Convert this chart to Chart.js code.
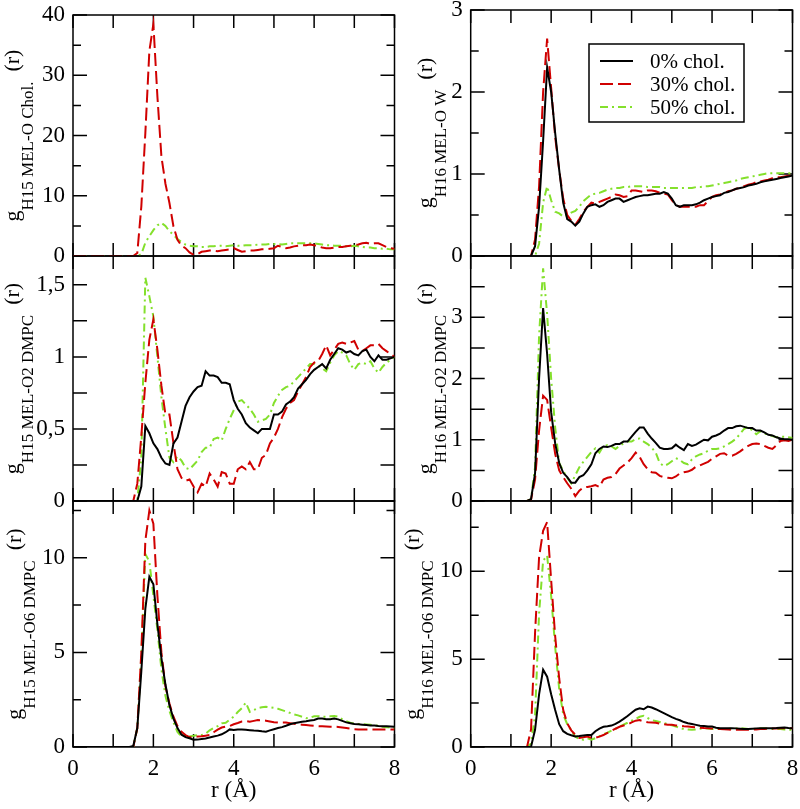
<!DOCTYPE html>
<html>
<head>
<meta charset="utf-8">
<script src="https://cdn.jsdelivr.net/npm/chart.js@4.4.1/dist/chart.umd.min.js"></script>
<style>
  html, body { margin: 0; padding: 0; background: #fff; }
  #page { position: relative; width: 800px; height: 809px; overflow: hidden; background: #fff; }
  #page canvas { position: absolute; }
</style>
</head>
<body>
<div id="page">
  <canvas id="tl"></canvas>
  <canvas id="tr"></canvas>
  <canvas id="ml"></canvas>
  <canvas id="mr"></canvas>
  <canvas id="bl"></canvas>
  <canvas id="br"></canvas>
</div>
<script>
// r (Å) sample points shared by every curve
const r = [0,
  1.4, 1.5, 1.6, 1.7, 1.8, 1.9, 2.0, 2.1, 2.2, 2.3,
  2.4, 2.5, 2.6, 2.7, 2.8, 2.9, 3.0, 3.1, 3.2, 3.3,
  3.4, 3.5, 3.6, 3.7, 3.8, 3.9, 4.0, 4.1, 4.2, 4.3,
  4.4, 4.5, 4.6, 4.7, 4.8, 4.9, 5.0, 5.1, 5.2, 5.3,
  5.4, 5.5, 5.6, 5.7, 5.8, 5.9, 6.0, 6.1, 6.2, 6.3,
  6.4, 6.5, 6.6, 6.7, 6.8, 6.9, 7.0, 7.1, 7.2, 7.3,
  7.4, 7.5, 7.6, 7.7, 7.8, 7.9, 8.0];

const seriesLabels = ['0% chol.', '30% chol.', '50% chol.'];

// g H15 MEL - O Chol.
const cholH15_30 = [0,
  0, 0, 0.5, 8.2, 20.4, 34, 38.5, 26.5, 16.5, 12,
  8.8, 4.9, 2.7, 1.7, 1.3, 0.6, 0.2, 0.3, 0.7, 0.8,
  0.9, 0.9, 0.8, 0.9, 1.0, 1.1, 1.3, 1.0, 0.7, 0.8,
  0.9, 0.9, 1.0, 1.1, 1.1, 1.2, 1.3, 1.7, 1.5, 1.3,
  1.4, 1.6, 1.7, 1.8, 1.8, 1.9, 1.8, 1.6, 1.4, 1.3,
  1.3, 1.4, 1.5, 1.5, 1.6, 1.7, 1.8, 1.9, 2.1, 2.2,
  2.0, 2.1, 2.1, 1.8, 1.5, 1.3, 1.2];
const cholH15_50 = [0,
  0, 0, 0, 0.3, 2.2, 3.3, 4.3, 5.1, 5.5, 5.0,
  4.1, 3.5, 2.8, 2.3, 1.9, 1.7, 1.6, 1.6, 1.5, 1.5,
  1.6, 1.6, 1.7, 1.7, 1.6, 1.7, 1.8, 1.7, 1.7, 1.8,
  1.8, 1.8, 1.9, 1.9, 1.9, 2.0, 2.0, 2.0, 1.9, 2.0,
  2.1, 2.1, 2.1, 2.1, 2.1, 2.1, 2.1, 2.0, 1.9, 1.8,
  1.8, 1.7, 1.7, 1.7, 1.6, 1.6, 1.7, 1.6, 1.5, 1.4,
  1.4, 1.3, 1.3, 1.2, 1.2, 1.1, 1.1];

// g H16 MEL - O W
const waterH16_0 = [0,
  0, 0, 0.12, 0.6, 1.4, 2.3, 2.0, 1.5, 1.05, 0.65,
  0.45, 0.42, 0.37, 0.42, 0.52, 0.6, 0.62, 0.63, 0.6, 0.62,
  0.66, 0.68, 0.7, 0.7, 0.66, 0.68, 0.7, 0.72, 0.73, 0.74,
  0.74, 0.75, 0.76, 0.76, 0.78, 0.76, 0.7, 0.62, 0.6, 0.62,
  0.62, 0.62, 0.63, 0.65, 0.68, 0.7, 0.72, 0.73, 0.74, 0.77,
  0.78, 0.8, 0.82, 0.83, 0.84, 0.86, 0.87, 0.88, 0.9, 0.91,
  0.92, 0.93, 0.94, 0.95, 0.96, 0.97, 0.98];
const waterH16_30 = [0,
  0, 0, 0.2, 0.85, 2.0, 2.65, 2.05, 1.45, 1.05, 0.7,
  0.5, 0.43, 0.38, 0.45, 0.54, 0.6, 0.65, 0.64, 0.66, 0.68,
  0.7, 0.72, 0.75, 0.74, 0.72, 0.73, 0.8, 0.8, 0.79, 0.78,
  0.8, 0.8, 0.79, 0.77, 0.76, 0.75, 0.68, 0.62, 0.6, 0.6,
  0.6, 0.6, 0.6, 0.62, 0.62, 0.67, 0.72, 0.74, 0.75, 0.77,
  0.79, 0.8, 0.82, 0.83, 0.85, 0.87, 0.88, 0.9, 0.91, 0.92,
  0.93, 0.95, 0.96, 0.96, 0.97, 0.98, 0.98];
const waterH16_50 = [0,
  0, 0, 0, 0.15, 0.65, 0.85, 0.68, 0.54, 0.52, 0.48,
  0.5, 0.53, 0.55, 0.6, 0.67, 0.71, 0.75, 0.76, 0.77, 0.79,
  0.81, 0.82, 0.83, 0.83, 0.84, 0.84, 0.85, 0.85, 0.85, 0.85,
  0.84, 0.84, 0.84, 0.84, 0.83, 0.83, 0.83, 0.83, 0.83, 0.83,
  0.83, 0.83, 0.84, 0.84, 0.85, 0.85, 0.86, 0.87, 0.88, 0.89,
  0.9, 0.91, 0.92, 0.94, 0.95, 0.96, 0.97, 0.98, 0.99, 1.0,
  1.01, 1.01, 1.01, 1.01, 1.01, 1.01, 1.01];

// g H15 MEL - O2 DMPC
const o2H15_0 = [0,
  0, 0, 0, 0.1, 0.52, 0.47, 0.4, 0.36, 0.3, 0.26,
  0.25, 0.4, 0.44, 0.55, 0.66, 0.72, 0.76, 0.79, 0.8, 0.9,
  0.87, 0.87, 0.86, 0.82, 0.82, 0.81, 0.7, 0.64, 0.6, 0.54,
  0.51, 0.49, 0.47, 0.5, 0.5, 0.5, 0.6, 0.6, 0.62, 0.67,
  0.69, 0.72, 0.78, 0.81, 0.84, 0.88, 0.91, 0.93, 0.95, 0.92,
  0.98, 1.02, 1.06, 1.05, 1.03, 1.04, 1.02, 1.01, 1.04, 1.05,
  1.0, 0.97, 1.01, 0.98, 0.98, 0.99, 1.0];
const o2H15_30 = [0,
  0, 0, 0.12, 0.45, 0.82, 1.12, 1.26, 1.05, 0.8, 0.6,
  0.6, 0.4, 0.22, 0.16, 0.14, 0.15, 0.1, 0.06, 0.12, 0.1,
  0.19, 0.15, 0.1, 0.2, 0.19, 0.12, 0.12, 0.22, 0.24, 0.22,
  0.27, 0.22, 0.22, 0.3, 0.32, 0.4, 0.44, 0.5, 0.58, 0.64,
  0.68, 0.7, 0.76, 0.81, 0.86, 0.93, 0.96, 0.97, 1.02, 1.08,
  1.01, 1.05, 1.09, 1.1, 1.09, 1.1, 1.11, 1.05, 1.04, 1.06,
  1.08, 1.08, 1.09, 1.06, 1.04, 1.02, 1.0];
const o2H15_50 = [0,
  0, 0, 0, 0.3, 1.55, 1.42, 1.28, 1.0, 0.72, 0.5,
  0.3, 0.27, 0.31, 0.28, 0.23, 0.22, 0.25, 0.28, 0.34, 0.37,
  0.37, 0.43, 0.44, 0.42, 0.5, 0.57, 0.63, 0.69, 0.7, 0.67,
  0.64, 0.6, 0.55, 0.56, 0.57, 0.6, 0.68, 0.73, 0.77, 0.79,
  0.8, 0.83, 0.86, 0.89, 0.92, 0.95, 0.95, 0.94, 0.92, 0.9,
  0.96, 1.01, 1.04, 1.03, 1.01, 0.95, 0.91, 0.95, 0.96, 0.95,
  0.97, 0.92, 0.89, 0.93, 0.96, 0.98, 1.0];

// g H16 MEL - O2 DMPC
const o2H16_0 = [0,
  0, 0.03, 0.45, 2.0, 3.15, 2.4, 1.45, 0.94, 0.62, 0.46,
  0.39, 0.3, 0.3, 0.39, 0.42, 0.5, 0.6, 0.78, 0.85, 0.89,
  0.88, 0.9, 0.93, 0.93, 0.97, 0.97, 1.05, 1.13, 1.2, 1.2,
  1.1, 1.02, 0.95, 0.87, 0.85, 0.85, 0.86, 0.92, 0.87, 0.83,
  0.93, 0.9, 0.92, 0.96, 1.0, 0.99, 1.05, 1.07, 1.1, 1.15,
  1.19, 1.19, 1.22, 1.23, 1.21, 1.19, 1.19, 1.15, 1.15, 1.12,
  1.08, 1.07, 1.04, 1.02, 1.01, 1.01, 1.0];
const o2H16_30 = [0,
  0, 0.02, 0.35, 1.15, 1.72, 1.65, 1.2, 0.77, 0.5, 0.39,
  0.29, 0.2, 0.08, 0.17, 0.22, 0.23, 0.24, 0.26, 0.23, 0.35,
  0.38, 0.39, 0.44, 0.53, 0.58, 0.63, 0.7, 0.79, 0.72, 0.6,
  0.52, 0.47, 0.46, 0.41, 0.39, 0.38, 0.37, 0.4, 0.45, 0.47,
  0.48, 0.51, 0.56, 0.58, 0.61, 0.64, 0.69, 0.73, 0.77, 0.78,
  0.74, 0.74, 0.77, 0.81, 0.86, 0.9, 0.93, 0.94, 0.93, 0.9,
  0.87, 0.85, 0.91, 0.98, 0.99, 0.98, 1.0];
const o2H16_50 = [0,
  0, 0.03, 0.55, 2.7, 3.8, 3.05, 2.0, 1.2, 0.62, 0.49,
  0.38, 0.29, 0.42, 0.55, 0.64, 0.72, 0.8, 0.86, 0.79, 0.9,
  0.91, 0.89, 0.85, 0.9, 0.94, 0.97, 0.97, 1.01, 1.02, 0.97,
  0.93, 0.87, 0.79, 0.62, 0.57, 0.6, 0.65, 0.7, 0.67, 0.62,
  0.6, 0.68, 0.73, 0.76, 0.78, 0.82, 0.85, 0.85, 0.86, 0.89,
  0.93, 0.97, 1.02, 1.1, 1.18, 1.21, 1.15, 1.09, 1.14, 1.1,
  1.09, 1.06, 1.04, 1.05, 1.05, 1.04, 1.03];

// g H15 MEL - O6 DMPC
const o6H15_0 = [0,
  0, 0.05, 1.0, 4.0, 7.3, 9.0, 8.6, 6.5, 4.7, 3.3,
  2.2, 1.5, 1.0, 0.65, 0.52, 0.46, 0.38, 0.39, 0.42, 0.45,
  0.5, 0.55, 0.6, 0.67, 0.78, 0.93, 0.9, 0.92, 0.93, 0.91,
  0.89, 0.87, 0.86, 0.83, 0.81, 0.88, 0.94, 1.0, 1.05, 1.12,
  1.2, 1.26, 1.3, 1.33, 1.36, 1.4, 1.43, 1.5, 1.5, 1.47,
  1.47, 1.5, 1.46, 1.38, 1.3, 1.26, 1.22, 1.2, 1.18, 1.16,
  1.14, 1.13, 1.11, 1.1, 1.09, 1.08, 1.07];
const o6H15_30 = [0,
  0, 0, 1.0, 5.0, 10.9, 12.5, 11.8, 8.0, 5.0, 3.2,
  2.3, 1.6, 1.1, 0.8, 0.63, 0.52, 0.52, 0.55, 0.57, 0.6,
  0.63, 0.78, 0.92, 1.03, 1.08, 1.11, 1.2, 1.27, 1.35, 1.37,
  1.34, 1.38, 1.42, 1.41, 1.39, 1.35, 1.31, 1.29, 1.29, 1.29,
  1.26, 1.23, 1.2, 1.18, 1.16, 1.14, 1.12, 1.1, 1.09, 1.08,
  1.07, 1.07, 1.06, 1.03, 1.0, 0.97, 0.94, 0.93, 0.93, 0.93,
  0.93, 0.93, 0.93, 0.93, 0.93, 0.93, 0.93];
const o6H15_50 = [0,
  0, 0, 1.0, 4.8, 10.2, 9.8, 8.0, 6.2, 4.1, 2.7,
  1.9, 1.3, 0.8, 0.55, 0.63, 0.56, 0.6, 0.63, 0.63, 0.7,
  0.88, 1.0, 1.1, 1.25, 1.28, 1.45, 1.6, 1.85, 2.05, 2.35,
  1.85, 1.95, 2.06, 2.1, 2.13, 2.1, 2.07, 2.02, 1.95, 1.88,
  1.8, 1.72, 1.67, 1.6, 1.52, 1.55, 1.62, 1.63, 1.6, 1.6,
  1.62, 1.64, 1.6, 1.46, 1.36, 1.28, 1.24, 1.22, 1.21, 1.19,
  1.17, 1.15, 1.11, 1.07, 1.05, 1.02, 0.99];

// g H16 MEL - O6 DMPC
const o6H16_0 = [0,
  0, 0.02, 0.98, 3.0, 4.4, 4.0, 3.0, 2.1, 1.3, 0.9,
  0.75, 0.67, 0.6, 0.62, 0.66, 0.69, 0.69, 0.9, 1.05, 1.15,
  1.18, 1.22, 1.32, 1.45, 1.6, 1.76, 1.95, 2.12, 2.2, 2.15,
  2.3, 2.25, 2.15, 2.04, 1.93, 1.82, 1.7, 1.6, 1.52, 1.42,
  1.35, 1.31, 1.26, 1.21, 1.19, 1.17, 1.16, 1.1, 1.07, 1.07,
  1.07, 1.07, 1.06, 1.04, 1.02, 1.02, 1.04, 1.06, 1.07, 1.07,
  1.07, 1.07, 1.08, 1.1, 1.11, 1.08, 1.07];
const o6H16_30 = [0,
  0, 1.0, 6.5, 10.8, 12.3, 12.8, 9.5, 6.3, 3.9, 2.1,
  1.35, 0.95, 0.7, 0.52, 0.55, 0.59, 0.52, 0.53, 0.59, 0.68,
  0.8, 0.92, 1.04, 1.15, 1.22, 1.28, 1.4, 1.5, 1.53, 1.46,
  1.41, 1.4, 1.38, 1.33, 1.3, 1.27, 1.26, 1.23, 1.21, 1.18,
  1.16, 1.14, 1.12, 1.1, 1.08, 1.07, 1.05, 1.03, 1.02, 1.01,
  1.0, 0.98, 0.98, 0.98, 0.98, 0.98, 0.99, 1.0, 1.02, 1.03,
  1.04, 1.05, 1.05, 1.06, 1.06, 1.07, 1.07];
const o6H16_50 = [0,
  0, 0.2, 1.8, 7.6, 10.6, 10.9, 8.6, 5.7, 3.3, 1.85,
  1.3, 0.95, 0.6, 0.45, 0.42, 0.5, 0.42, 0.5, 0.62, 0.72,
  0.82, 0.93, 1.04, 1.16, 1.27, 1.38, 1.5, 1.6, 1.72, 1.78,
  1.65, 1.53, 1.48, 1.42, 1.36, 1.3, 1.23, 1.17, 1.08, 1.02,
  1.0, 0.98, 1.0, 1.04, 1.07, 1.05, 1.02, 1.02, 1.02, 1.02,
  1.03, 1.05, 1.06, 1.07, 1.05, 1.03, 1.02, 1.04, 1.06, 1.07,
  1.05, 1.03, 1.02, 1.02, 1.0, 0.99, 0.98];

const xTickMarks = [0, 1, 2, 3, 4, 5, 6, 7, 8];

const FONT = '"Liberation Serif", "Times New Roman", serif';
const lineStyles = [
  { color: '#000000', dash: [] },
  { color: '#d00000', dash: [13, 5] },
  { color: '#84e02c', dash: [8, 4, 2, 4] }
];

// layout of the six panels (page pixels)
const panels = [
  { id: 'tl', cx: 0, cy: 0, cw: 400, ch: 270, area: [73, 15, 394.5, 256],
    ymax: 40, ystep: 10, yminor: 5, minorLen: 8, sub: 'H15 MEL-O Chol.', labelX: 19,
    series: [[cholH15_30, 1], [cholH15_50, 2]] },
  { id: 'tr', cx: 400, cy: 0, cw: 400, ch: 270, area: [470.7, 10, 792.5, 256],
    ymax: 3, ystep: 1, yminor: 0.5, minorLen: 8, sub: 'H16 MEL-O W', labelX: 432, legend: true,
    series: [[waterH16_0, 0], [waterH16_30, 1], [waterH16_50, 2]] },
  { id: 'ml', cx: 0, cy: 245, cw: 400, ch: 270, area: [73, 256, 394.5, 501],
    ymax: 1.7, ystep: 0.5, yminor: 0.25, minorLen: 14, sub: 'H15 MEL-O2 DMPC', labelX: 19,
    series: [[o2H15_0, 0], [o2H15_30, 1], [o2H15_50, 2]] },
  { id: 'mr', cx: 400, cy: 245, cw: 400, ch: 270, area: [470.7, 256, 792.5, 501],
    ymax: 4, ystep: 1, yminor: 0.5, minorLen: 14, sub: 'H16 MEL-O2 DMPC', labelX: 432, hideTop: true,
    series: [[o2H16_0, 0], [o2H16_30, 1], [o2H16_50, 2]] },
  { id: 'bl', cx: 0, cy: 490, cw: 400, ch: 319, area: [73, 501, 394.5, 747],
    ymax: 13, ystep: 5, yminor: 2.5, minorLen: 8, sub: 'H15 MEL-O6 DMPC', labelX: 21, xLabels: true,
    series: [[o6H15_0, 0], [o6H15_30, 1], [o6H15_50, 2]] },
  { id: 'br', cx: 400, cy: 490, cw: 400, ch: 319, area: [470.7, 501, 792.5, 747],
    ymax: 14, ystep: 5, yminor: 2.5, minorLen: 8, sub: 'H16 MEL-O6 DMPC', labelX: 419, xLabels: true,
    series: [[o6H16_0, 0], [o6H16_30, 1], [o6H16_50, 2]] }
];

const framePlugin = {
  id: 'frame',
  beforeDatasetsDraw(chart, args, opts) {
    const { ctx, chartArea: a, scales: { x, y } } = chart;
    ctx.save();
    ctx.strokeStyle = '#000';
    ctx.lineWidth = 1.5;
    ctx.strokeRect(a.left, a.top, a.right - a.left, a.bottom - a.top);
    ctx.beginPath();
    xTickMarks.forEach(v => {
      const px = x.getPixelForValue(v);
      ctx.moveTo(px, a.bottom); ctx.lineTo(px, a.bottom - 13);
      ctx.moveTo(px, a.top); ctx.lineTo(px, a.top + 13);
    });
    for (let k = 0; k * opts.minor <= opts.max + 1e-9; k++) {
      const v = k * opts.minor;
      const q = v / opts.major;
      const len = Math.abs(q - Math.round(q)) < 1e-6 ? 14 : opts.minorLen;
      const py = y.getPixelForValue(v);
      ctx.moveTo(a.left, py); ctx.lineTo(a.left + len, py);
      ctx.moveTo(a.right, py); ctx.lineTo(a.right - len, py);
    }
    ctx.stroke();
    ctx.restore();
  },
  afterDatasetsDraw(chart, args, opts) {
    const { ctx, chartArea: a } = chart;
    ctx.save();
    ctx.fillStyle = '#000';
    // y axis title: g_sub (r)
    ctx.translate(opts.labelX, (a.top + a.bottom) / 2);
    ctx.rotate(-Math.PI / 2);
    ctx.textBaseline = 'alphabetic';
    const big = '22px ' + FONT, small = '17px ' + FONT;
    ctx.font = big;
    const wg = ctx.measureText('g').width, wr = ctx.measureText('(r)').width;
    ctx.font = small;
    const ws = ctx.measureText(opts.sub).width;
    const gap = 10;
    let px = -(wg + ws + gap + wr) / 2;
    ctx.font = big; ctx.fillText('g', px, 0); px += wg;
    ctx.font = small; ctx.fillText(opts.sub, px, 14); px += ws + gap;
    ctx.font = big; ctx.fillText('(r)', px, 0);
    ctx.restore();

    if (opts.xTitle) {
      ctx.save();
      ctx.fillStyle = '#000';
      ctx.font = '23px ' + FONT;
      ctx.textAlign = 'center';
      ctx.textBaseline = 'middle';
      ctx.fillText('r (Å)', (a.left + a.right) / 2, a.bottom + 44);
      ctx.restore();
    }

    if (opts.legend) {
      const bx = 189, by = 44, bw = 155, bh = 78;
      ctx.save();
      ctx.fillStyle = '#fff';
      ctx.fillRect(bx, by, bw, bh);
      ctx.strokeStyle = '#000';
      ctx.lineWidth = 1.5;
      ctx.strokeRect(bx, by, bw, bh);
      ctx.font = '21px ' + FONT;
      ctx.textBaseline = 'middle';
      chart.data.datasets.forEach((ds, i) => {
        const ry = 61 + i * 23;
        ctx.strokeStyle = ds.borderColor;
        ctx.lineWidth = ds.borderWidth;
        ctx.setLineDash(ds.borderDash);
        ctx.beginPath();
        ctx.moveTo(200, ry); ctx.lineTo(233, ry);
        ctx.stroke();
        ctx.setLineDash([]);
        ctx.fillStyle = '#000';
        ctx.fillText(ds.label, 250, ry + 1);
      });
      ctx.restore();
    }
  }
};

function fmt(v) {
  return String(Math.round(v * 100) / 100).replace('.', ',');
}

panels.forEach(p => {
  const cv = document.getElementById(p.id);
  cv.width = p.cw; cv.height = p.ch;
  cv.style.left = p.cx + 'px'; cv.style.top = p.cy + 'px';
  cv.style.width = p.cw + 'px'; cv.style.height = p.ch + 'px';

  const aL = p.area[0] - p.cx, aT = p.area[1] - p.cy;
  const aR = p.area[2] - p.cx, aB = p.area[3] - p.cy;

  const datasets = p.series.map(([vals, s]) => ({
    label: seriesLabels[s],
    data: r.map((x, i) => ({ x: x, y: vals[i] })),
    borderColor: lineStyles[s].color,
    borderDash: lineStyles[s].dash,
    borderWidth: 2,
    pointRadius: 0,
    tension: 0,
    fill: false
  }));

  new Chart(cv.getContext('2d'), {
    type: 'line',
    data: { datasets },
    options: {
      responsive: false,
      animation: false,
      events: [],
      layout: { padding: { left: 0, top: aT, right: p.cw - aR, bottom: 0 } },
      plugins: {
        legend: { display: false },
        tooltip: { enabled: false },
        frame: {
          max: p.ymax, major: p.ystep, minor: p.yminor, minorLen: p.minorLen,
          sub: p.sub, labelX: p.labelX - p.cx, legend: !!p.legend, xTitle: !!p.xLabels
        }
      },
      scales: {
        x: {
          type: 'linear', min: 0, max: 8,
          grid: { display: false, drawTicks: false },
          border: { display: false },
          ticks: {
            display: !!p.xLabels, stepSize: 2, padding: 8, color: '#000', maxRotation: 0,
            font: { family: FONT, size: 23 }
          },
          afterFit(s) { s.height = p.ch - aB; s.paddingLeft = 0; s.paddingRight = 0; }
        },
        y: {
          type: 'linear', min: 0, max: p.ymax,
          grid: { display: false, drawTicks: false },
          border: { display: false },
          ticks: {
            stepSize: p.ystep, includeBounds: false, padding: 8, color: '#000',
            font: { family: FONT, size: 23 },
            callback: v => (p.hideTop && v === p.ymax) ? '' : fmt(v)
          },
          afterFit(s) { s.width = aL; s.paddingTop = 0; s.paddingBottom = 0; }
        }
      }
    },
    plugins: [framePlugin]
  });
});
</script>
</body>
</html>
